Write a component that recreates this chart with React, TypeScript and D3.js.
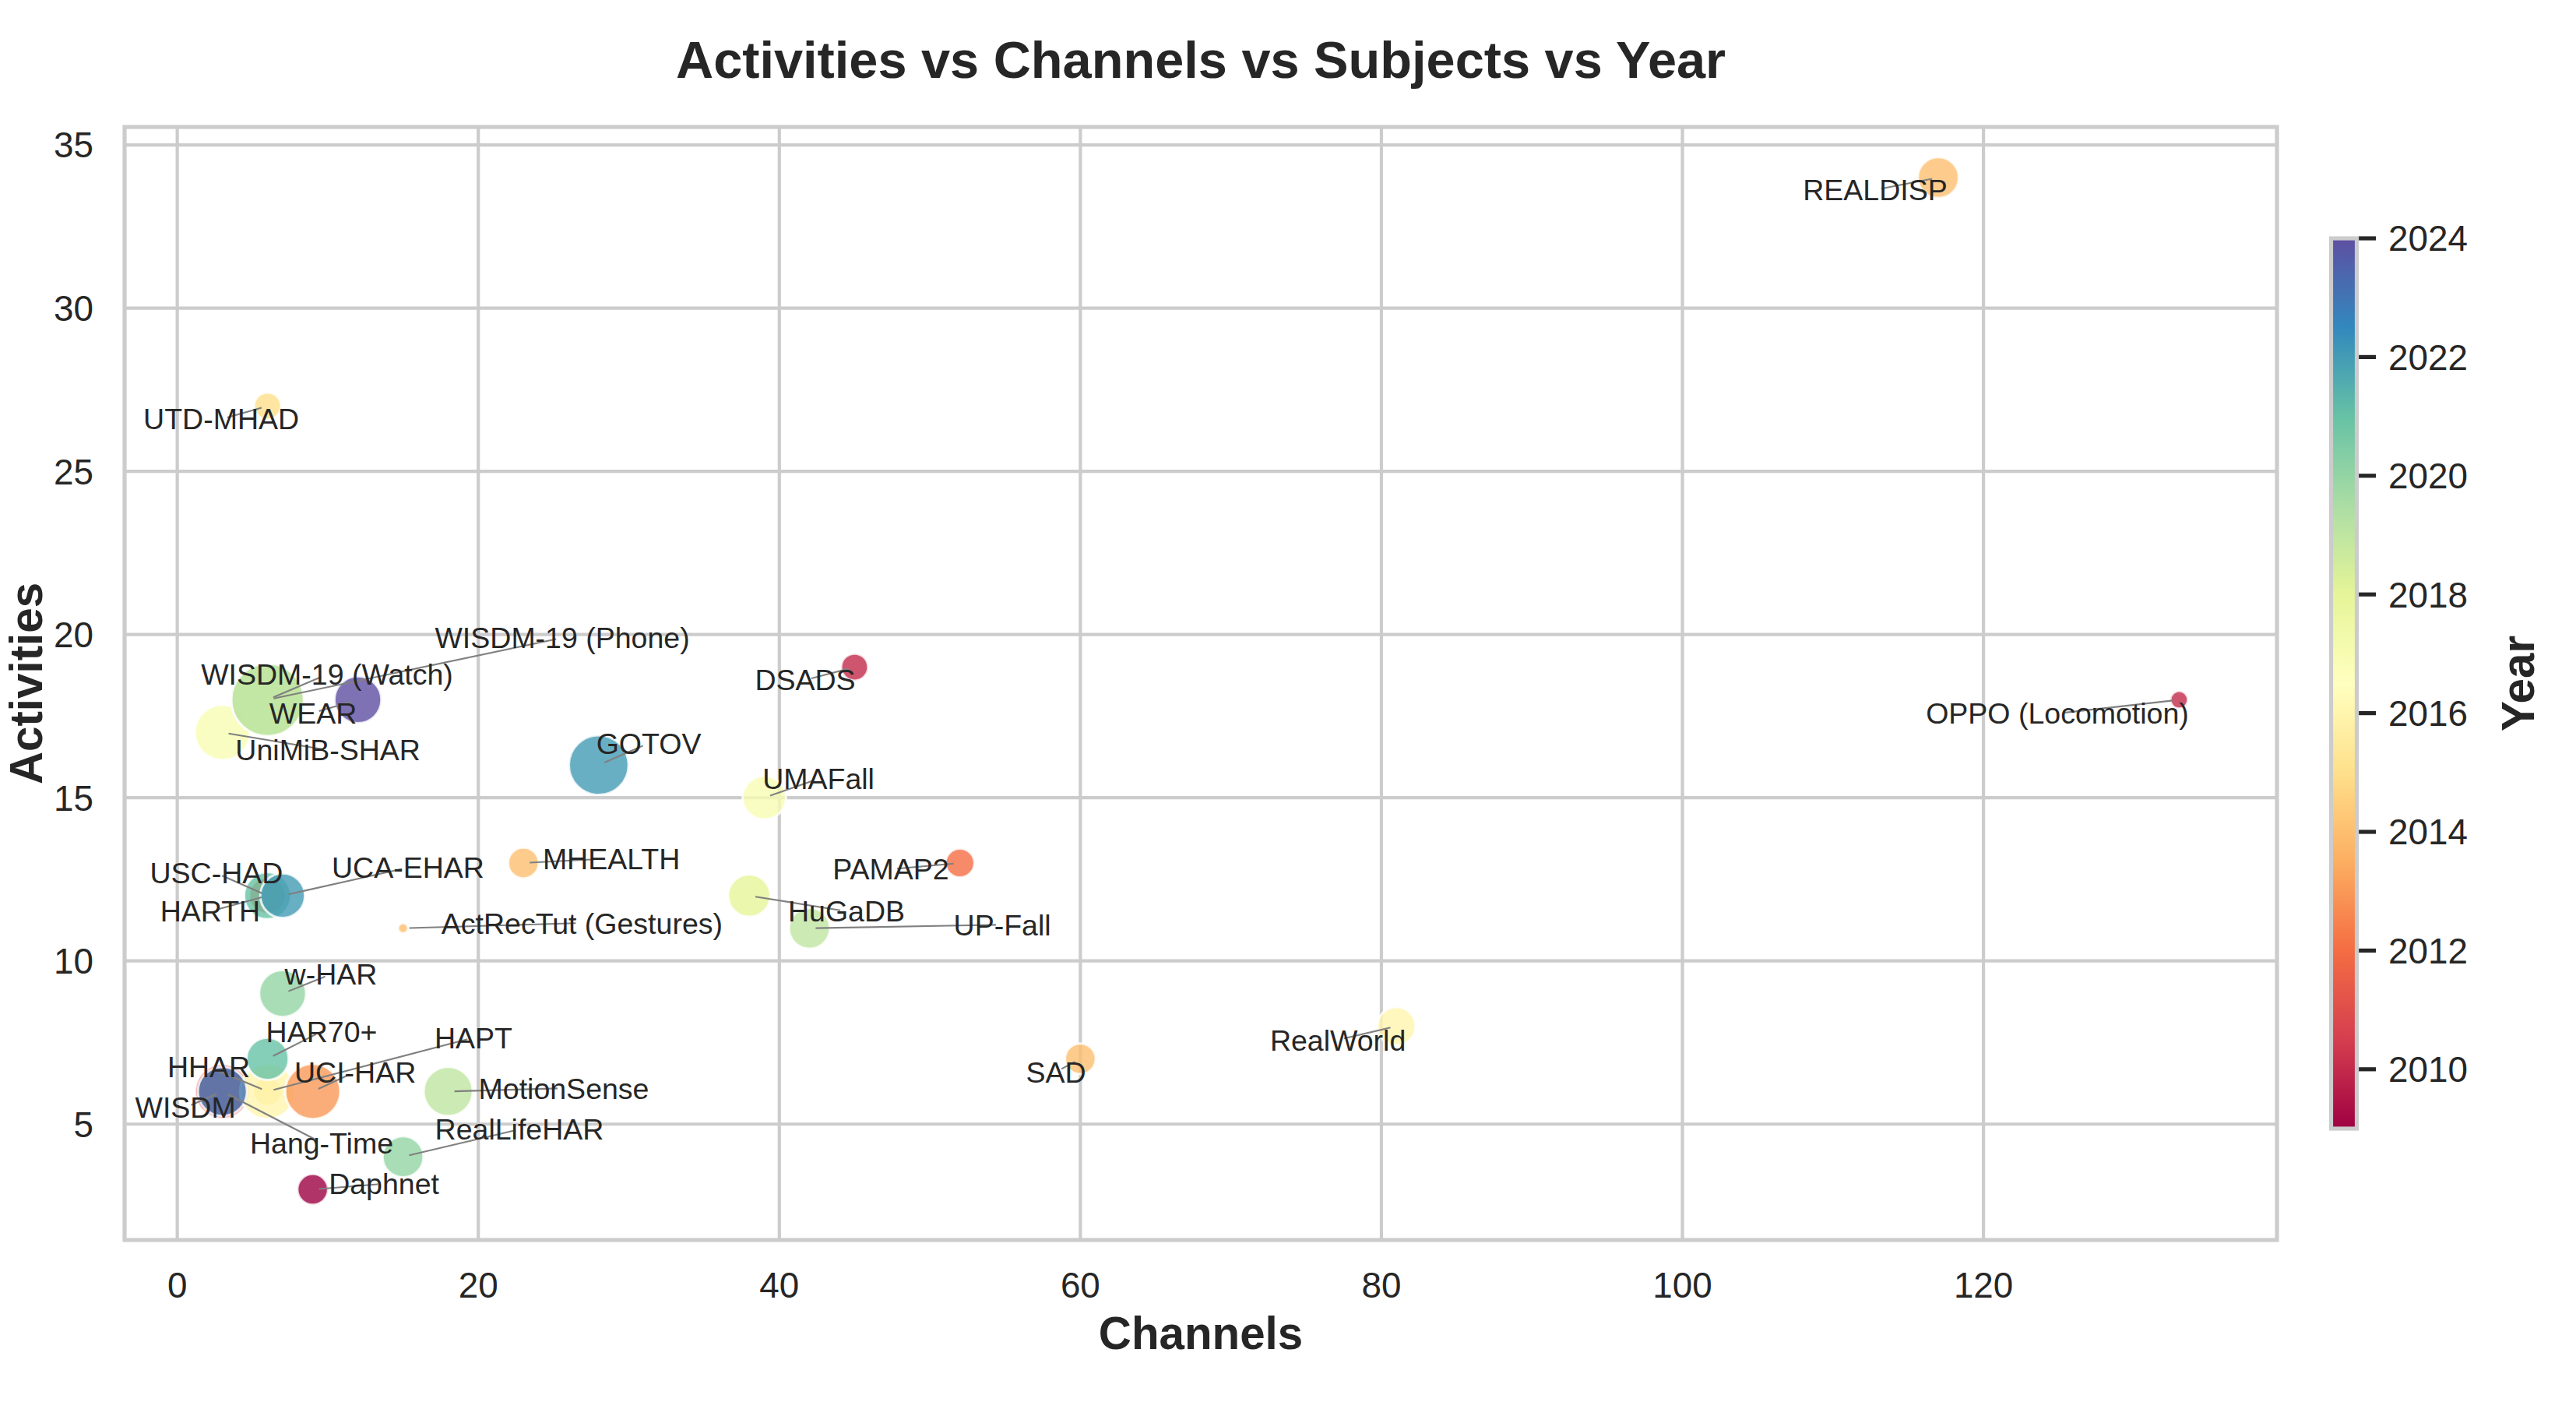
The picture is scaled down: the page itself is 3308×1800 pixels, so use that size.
import React from "react";
import * as d3 from "d3";

// One row per dataset; arrays share the same index.
const names = [
  "Daphnet", "DSADS", "OPPO (Locomotion)", "WISDM", "PAMAP2", "USC-HAD",
  "REALDISP", "MHEALTH", "ActRecTut (Gestures)", "SAD", "UTD-MHAD", "HHAR",
  "HAPT", "UCI-HAR", "RealWorld", "UniMiB-SHAR", "UMAFall", "HuGaDB",
  "WISDM-19 (Phone)", "WISDM-19 (Watch)", "UP-Fall", "MotionSense", "w-HAR",
  "RealLifeHAR", "HARTH", "HAR70+", "GOTOV", "UCA-EHAR", "Hang-Time", "WEAR",
];
const channels = [9, 45, 133, 3, 52, 6, 117, 23, 15, 60, 6, 6, 6, 9, 81, 3, 39, 38, 6, 6, 42, 18, 7, 15, 6, 6, 28, 7, 3, 12];
const activities = [3, 19, 18, 6, 13, 12, 34, 13, 11, 7, 27, 6, 6, 6, 8, 17, 15, 12, 18, 18, 11, 6, 9, 4, 12, 7, 16, 12, 6, 18];
const subjects = [10, 8, 4, 29, 9, 14, 17, 10, 2, 10, 8, 9, 30, 30, 15, 30, 19, 18, 51, 51, 17, 24, 22, 17, 22, 18, 35, 20, 24, 22];
const years = [2009, 2010, 2010, 2011, 2012, 2012, 2014, 2014, 2014, 2014, 2015, 2015, 2016, 2013, 2016, 2017, 2017, 2018, 2019, 2019, 2019, 2019, 2020, 2020, 2021, 2021, 2022, 2022, 2023, 2024];

// Where each annotation text sits, in data units (channels, activities)
const labelX = [13.73, 41.72, 124.91, 0.54, 47.41, 2.6, 112.8, 28.84, 26.89, 58.38, 2.92, 2.09, 19.68, 11.82, 77.11, 10.01, 42.6, 44.46, 25.58, 9.95, 54.81, 25.68, 10.21, 22.73, 2.19, 9.59, 31.32, 15.33, 9.59, 9.02];
const labelY = [3.17, 18.61, 17.58, 5.51, 12.81, 12.69, 33.62, 13.14, 11.16, 6.6, 26.6, 6.75, 7.65, 6.6, 7.58, 16.46, 15.58, 11.52, 19.9, 18.78, 11.11, 6.1, 9.59, 4.84, 11.52, 7.84, 16.67, 12.86, 4.43, 17.6];

const W = 3308;
const H = 1800;
const plot = { left: 160, right: 2924, top: 163, bottom: 1592 };
const bar = { x: 2993.5, w: 33, top: 306, bottom: 1449 };
const FONT = "'Liberation Sans', Arial, Helvetica, sans-serif";
const INK = "#262626";
const GRID = "#cccccc";

// matplotlib-style 5% margin around the data extent
function padded(values: number[]): [number, number] {
  const [lo, hi] = d3.extent(values) as [number, number];
  const m = (hi - lo) * 0.05;
  return [lo - m, hi + m];
}

export default function App() {
  const x = d3.scaleLinear().domain(padded(channels)).range([plot.left, plot.right]);
  const y = d3.scaleLinear().domain(padded(activities)).range([plot.bottom, plot.top]);

  // marker area grows linearly with the subject count
  const [sMin, sMax] = d3.extent(subjects) as [number, number];
  const area = d3.scaleLinear().domain([sMin, sMax]).range([42, 2162]);

  const [yrMin, yrMax] = d3.extent(years) as [number, number];
  const spectral = d3.schemeSpectral[11];
  const color = d3
    .scaleLinear<string>()
    .domain(spectral.map((_, i) => yrMin + (i * (yrMax - yrMin)) / (spectral.length - 1)))
    .range(spectral)
    .interpolate(d3.interpolateRgb);
  const cbar = d3.scaleLinear().domain([yrMin, yrMax]).range([bar.bottom, bar.top]);

  const gradStops = d3.range(0, 1.0001, 0.02);
  const cx = (plot.left + plot.right) / 2;
  const cy = (plot.top + plot.bottom) / 2;

  const leader = (i: number) => {
    const x1 = x(labelX[i]);
    const y1 = y(labelY[i]);
    const x2 = x(channels[i]);
    const y2 = y(activities[i]);
    const len = Math.hypot(x2 - x1, y2 - y1);
    const shrink = 8;
    if (len < shrink * 2 + 1) return null;
    const ux = (x2 - x1) / len;
    const uy = (y2 - y1) / len;
    return (
      <line
        key={`l${i}`}
        x1={x1 + ux * shrink}
        y1={y1 + uy * shrink}
        x2={x2 - ux * shrink}
        y2={y2 - uy * shrink}
        stroke="#808080"
        strokeWidth={2.1}
      />
    );
  };

  return (
    <svg
      width={W}
      height={H}
      viewBox={`0 0 ${W} ${H}`}
      style={{ position: "absolute", left: 0, top: 0, display: "block", background: "#fff" }}
      fontFamily={FONT}
    >
      <defs>
        <linearGradient id="yearRamp" x1="0" y1="1" x2="0" y2="0">
          {gradStops.map((t) => (
            <stop key={t} offset={t} stopColor={color(yrMin + t * (yrMax - yrMin))} />
          ))}
        </linearGradient>
      </defs>

      {/* grid */}
      <g stroke={GRID} strokeWidth={4.2}>
        {x.ticks().map((t) => (
          <line key={`gx${t}`} x1={x(t)} x2={x(t)} y1={plot.top} y2={plot.bottom} />
        ))}
        {y.ticks().map((t) => (
          <line key={`gy${t}`} x1={plot.left} x2={plot.right} y1={y(t)} y2={y(t)} />
        ))}
      </g>

      {/* bubbles */}
      <g>
        {names.map((n, i) => (
          <circle
            key={n}
            cx={x(channels[i])}
            cy={y(activities[i])}
            r={Math.sqrt(area(subjects[i]))}
            fill={color(years[i])}
            fillOpacity={0.8}
            stroke="#ffffff"
            strokeOpacity={0.8}
            strokeWidth={3}
          />
        ))}
      </g>

      {/* frame */}
      <rect
        x={plot.left}
        y={plot.top}
        width={plot.right - plot.left}
        height={plot.bottom - plot.top}
        fill="none"
        stroke={GRID}
        strokeWidth={5.2}
      />

      {/* annotations */}
      <g>{names.map((_, i) => leader(i))}</g>
      <g fontSize={37.5} fill={INK} textAnchor="middle">
        {names.map((n, i) => (
          <text key={`t${n}`} x={x(labelX[i])} y={y(labelY[i])} dy="0.358em">
            {n}
          </text>
        ))}
      </g>

      {/* tick labels */}
      <g fontSize={45.8} fill={INK}>
        {x.ticks().map((t) => (
          <text key={`tx${t}`} x={x(t)} y={1666} textAnchor="middle">
            {t}
          </text>
        ))}
        {y.ticks().map((t) => (
          <text key={`ty${t}`} x={120} y={y(t)} dy="0.358em" textAnchor="end">
            {t}
          </text>
        ))}
      </g>

      {/* axis labels and title */}
      <text x={cx} y={1732} textAnchor="middle" fontSize={58.3} fontWeight="bold" fill={INK}>
        Channels
      </text>
      <text
        transform={`translate(54,${cy}) rotate(-90)`}
        textAnchor="middle"
        fontSize={58.3}
        fontWeight="bold"
        fill={INK}
      >
        Activities
      </text>
      <text x={cx} y={100} textAnchor="middle" fontSize={66.7} fontWeight="bold" fill={INK}>
        Activities vs Channels vs Subjects vs Year
      </text>

      {/* colorbar */}
      <rect x={bar.x} y={bar.top} width={bar.w} height={bar.bottom - bar.top} fill="url(#yearRamp)" />
      <rect
        x={bar.x}
        y={bar.top}
        width={bar.w}
        height={bar.bottom - bar.top}
        fill="none"
        stroke={GRID}
        strokeWidth={5.2}
      />
      <g>
        {cbar.ticks(8).map((t) => (
          <g key={`cb${t}`}>
            <line
              x1={bar.x + bar.w + 2.6}
              x2={bar.x + bar.w + 2.6 + 22}
              y1={cbar(t)}
              y2={cbar(t)}
              stroke={INK}
              strokeWidth={5.2}
            />
            <text x={3067} y={cbar(t)} dy="0.358em" fontSize={45.8} fill={INK}>
              {t}
            </text>
          </g>
        ))}
      </g>
      <text
        transform={`translate(3254,${(bar.top + bar.bottom) / 2}) rotate(-90)`}
        textAnchor="middle"
        fontSize={58.3}
        fontWeight="bold"
        fill={INK}
      >
        Year
      </text>
    </svg>
  );
}
